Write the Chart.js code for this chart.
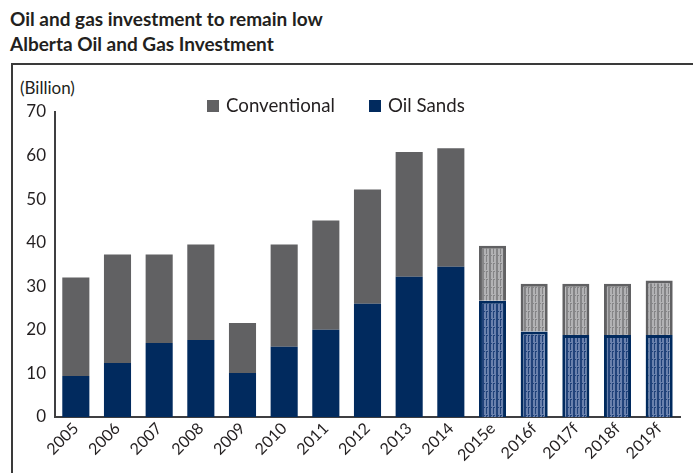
<!DOCTYPE html>
<html>
<head>
<meta charset="utf-8">
<script src="https://cdn.jsdelivr.net/npm/chart.js@4"></script>
<style>
  body { margin: 0; background: #fff; width: 693px; height: 473px; overflow: hidden; position: relative; font-family: Lato, "Open Sans", sans-serif; color: #231f20; }
  #title { position: absolute; left: 10px; top: 6px; font-weight: bold; font-size: 19px; line-height: 25px; }
  #frame { position: absolute; left: 11px; top: 63px; right: -5px; bottom: -5px; border-left: 2px solid #3a3a3a; border-top: 2px solid #3a3a3a; }
  #unit { position: absolute; left: 20px; top: 77px; font-size: 17px; }
  canvas { position: absolute; left: 0; top: 0; }
</style>
</head>
<body>
<div id="title">Oil and gas investment to remain low<br>Alberta Oil and Gas Investment</div>
<div id="frame"></div>
<div id="unit">(Billion)</div>
<canvas id="myChart" width="693" height="473"></canvas>
<script>
// 年份（e = 估計, f = 預測）
const years = ['2005', '2006', '2007', '2008', '2009', '2010', '2011', '2012', '2013', '2014', '2015e', '2016f', '2017f', '2018f', '2019f'];
// 油砂投資（十億）
const oilSands = [9.4, 12.4, 17.0, 17.7, 10.1, 16.1, 20.0, 26.0, 32.2, 34.5, 26.7, 19.6, 18.8, 18.8, 18.8];
// 傳統油氣投資（十億）
const conventional = [22.6, 24.9, 20.3, 21.9, 11.5, 23.5, 25.1, 26.2, 28.6, 27.2, 12.6, 11.0, 11.8, 11.8, 12.5];
// 哪些年份是估計/預測
const isForecast = [false, false, false, false, false, false, false, false, false, false, true, true, true, true, true];

const grayColor = '#616163';
const navyColor = '#012a5e';

// 函式：做出預測柱子的格紋
function makePattern(base, light) {
    const c = document.createElement('canvas');
    c.width = 7;
    c.height = 8;
    const g = c.getContext('2d');
    g.fillStyle = base;
    g.fillRect(0, 0, 7, 8);
    g.fillStyle = light;
    g.fillRect(1, 0, 2, 6);
    g.fillRect(4, 0, 2, 6);
    g.fillRect(1, 6, 5, 1);
    g.fillRect(2, 7, 1, 1);
    g.fillRect(5, 7, 1, 1);
    return g.createPattern(c, 'repeat');
}

const grayPattern = makePattern('#858587', '#b2b2b4');
const navyPattern = makePattern('#20427a', '#6a81ad');

// 自訂圖例
const legendPlugin = {
    id: 'customLegend',
    afterDraw(chart) {
        const ctx = chart.ctx;
        const items = [
            { label: chart.data.datasets[1].label, color: grayColor, x: 207 },
            { label: chart.data.datasets[0].label, color: navyColor, x: 369 }
        ];
        ctx.save();
        ctx.font = '18.7px Lato, "Open Sans", sans-serif';
        ctx.textBaseline = 'middle';
        items.forEach(it => {
            ctx.fillStyle = it.color;
            ctx.fillRect(it.x, 100, 12, 12);
            ctx.fillStyle = '#231f20';
            ctx.fillText(it.label, it.x + 19, 106);
        });
        ctx.restore();
    }
};

const ctx = document.getElementById('myChart').getContext('2d');
const myChart = new Chart(ctx, {
    type: 'bar',
    data: {
        labels: years,
        datasets: [
            {
                label: 'Oil Sands',
                data: oilSands,
                backgroundColor: isForecast.map(f => f ? navyPattern : navyColor),
                borderColor: navyColor,
                borderWidth: isForecast.map(f => f ? 3 : 0),
                barPercentage: 0.65,
                categoryPercentage: 1
            },
            {
                label: 'Conventional',
                data: conventional,
                backgroundColor: isForecast.map(f => f ? grayPattern : grayColor),
                borderColor: grayColor,
                borderWidth: isForecast.map(f => f ? 3 : 0),
                barPercentage: 0.65,
                categoryPercentage: 1
            }
        ]
    },
    options: {
        responsive: false,
        animation: false,
        layout: { padding: { top: 112, right: 13, left: 0, bottom: 0 } },
        plugins: {
            legend: { display: false },
            tooltip: { enabled: false }
        },
        scales: {
            x: {
                stacked: true,
                grid: { display: false, drawTicks: false },
                border: { display: true, color: '#3f3f41', width: 2 },
                ticks: {
                    color: '#231f20',
                    font: { family: 'Lato, "Open Sans", sans-serif', size: 16 },
                    maxRotation: 45,
                    minRotation: 45,
                    padding: 2
                },
                afterFit(scale) { scale.height = 56; }
            },
            y: {
                stacked: true,
                min: 0,
                max: 70,
                grid: { display: false, drawTicks: false },
                border: { display: true, color: '#3f3f41', width: 2 },
                ticks: {
                    stepSize: 10,
                    color: '#231f20',
                    font: { family: 'Lato, "Open Sans", sans-serif', size: 17 },
                    padding: 9
                },
                afterFit(scale) { scale.width = 55; }
            }
        }
    },
    plugins: [legendPlugin]
});
</script>
</body>
</html>
